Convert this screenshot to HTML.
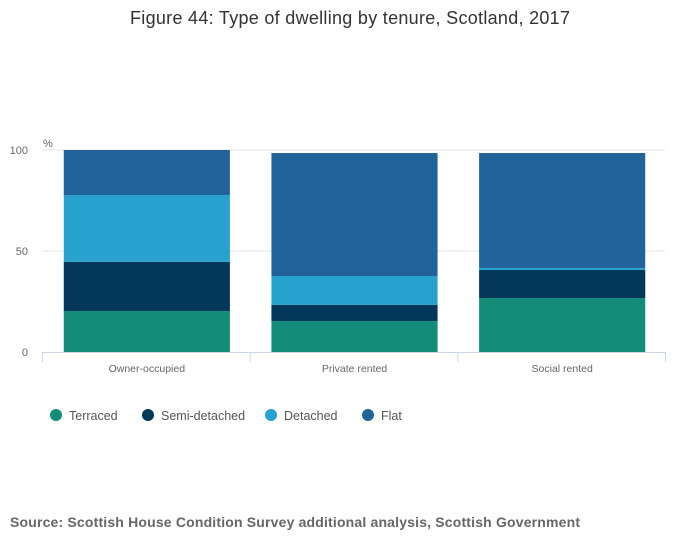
<!DOCTYPE html>
<html><head><meta charset="utf-8"><style>
body{margin:0;background:#fff;font-family:"Liberation Sans","DejaVu Sans",sans-serif;}
</style></head><body>
<svg id="chart" width="700" height="549" xmlns="http://www.w3.org/2000/svg">
<text x="350" y="24" text-anchor="middle" font-size="18" fill="#333" textLength="440">Figure 44: Type of dwelling by tenure, Scotland, 2017</text>
<text x="43" y="147" font-size="11" fill="#666">%</text>
<g id="grid"></g><g id="bars"></g><g id="axis"></g><g id="legend"></g>
<text x="10" y="527" font-size="14" font-weight="bold" fill="#666" textLength="570">Source: Scottish House Condition Survey additional analysis, Scottish Government</text>
</svg>
<script>
const categories=["Owner-occupied","Private rented","Social rented"];
const seriesNames=["Terraced","Semi-detached","Detached","Flat"];
const terraced=[20.3,15.3,26.7];
const semiDetached=[24.3,8.0,13.9];
const detached=[33.1,14.3,1.0];
const flat=[22.3,60.9,56.9];
const yTicks=[0,50,100];
const colors=["#138c79","#04385a","#27a1cd","#21629a"];
const series=[terraced,semiDetached,detached,flat];
const NS="http://www.w3.org/2000/svg";
const X0=42,X1=665,Y0=352,Y1=150;
const band=(X1-X0)/categories.length;
const y=v=>Y0-(v/100)*(Y0-Y1);
const xb=i=>X0+i*band;
function mk(t,a,p){const e=document.createElementNS(NS,t);for(const k in a)e.setAttribute(k,a[k]);p.appendChild(e);return e;}
const grid=document.getElementById('grid'),bars=document.getElementById('bars'),axis=document.getElementById('axis'),legend=document.getElementById('legend');
yTicks.forEach(t=>{
 if(t>0){const l=mk('line',{x1:X0,x2:X1,y1:y(t),y2:y(t),stroke:'#e6e6e6'},grid);
 
 }
 const tx=mk('text',{x:X0-14,y:y(t)+4,'text-anchor':'end','font-size':11,fill:'#666'},grid);tx.textContent=t;
 
 
});
categories.forEach((c,i)=>{
 let cum=0;
 series.forEach((s,j)=>{
  const v=s[i];const r=mk('rect',{x:xb(i)+band*0.1+1,width:band*0.8,y:y(cum+v),height:y(cum)-y(cum+v),fill:colors[j]},bars);
  
  
  cum+=v;
 });
 const tx=mk('text',{x:xb(i)+band/2+1,y:372,'text-anchor':'middle','font-size':10.5,fill:'#666'},axis);tx.textContent=c;
 
 
});
const al=mk('line',{x1:X0,x2:X1,y1:Y0+0.5,y2:Y0+0.5,stroke:'#ccd6eb'},axis);


for(let i=0;i<=categories.length;i++){const t=mk('line',{x1:xb(i)+0.5,x2:xb(i)+0.5,y1:Y0,y2:Y0+10,stroke:'#ccd6eb'},axis);
 
 }
const lx=[56,148,271,368];
seriesNames.forEach((n,j)=>{
 const g=mk('g',{},legend);
 
 
 mk('circle',{cx:lx[j],cy:415,r:6,fill:colors[j]},g);
 const t=mk('text',{x:lx[j]+13,y:420,'font-size':12.5,fill:'#555'},g);t.textContent=n;
});
</script>
</body></html>
